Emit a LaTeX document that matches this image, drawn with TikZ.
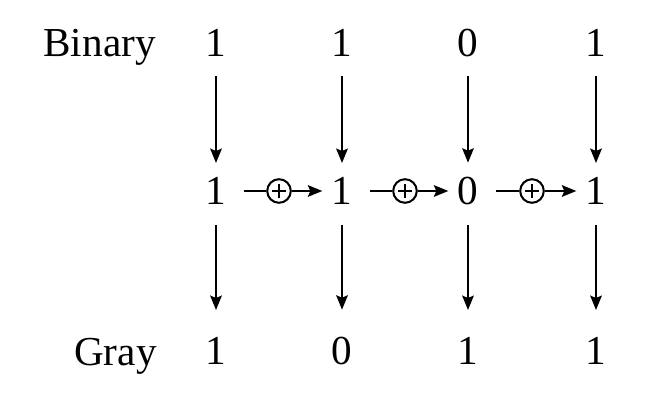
\documentclass[tikz,border=0pt]{standalone}
\usepackage{fontspec}
\setmainfont{Liberation Serif}
\usetikzlibrary{arrows.meta}

\begin{document}
\begin{tikzpicture}[x=0.5pt,y=-0.5pt,
    every node/.style={inner sep=0pt,font=\fontsize{20.6}{24}\selectfont},
    xorgate/.style={draw,circle,minimum size=11.8pt,line width=1pt,
      path picture={\draw[line width=0.9pt]
        ([xshift=-3.4pt]path picture bounding box.center) -- ([xshift=3.4pt]path picture bounding box.center)
        ([yshift=-3.4pt]path picture bounding box.center) -- ([yshift=3.4pt]path picture bounding box.center);}},
    flow/.style={line width=1pt,-{Stealth[length=7.2pt,width=5.8pt,inset=1.2pt]}}]
        \useasboundingbox (0,0) rectangle (662,405);

        \node[anchor=base east] (binary) at (156,57) {Binary};
        \node (b1) at (216,43) {1};
        \node (b2) at (342,43) {1};
        \node (b3) at (468,43) {0};
        \node (b4) at (596,43) {1};

        \node (m1) at (216,191) {1};
        \node (m2) at (342,191) {1};
        \node (m3) at (468,191) {0};
        \node (m4) at (596,191) {1};
        \node[xorgate] (x1) at (279,191) {};
        \node[xorgate] (x2) at (405,191) {};
        \node[xorgate] (x3) at (532,191) {};

        \node[anchor=base east] (gray) at (157,365) {Gray};
        \node (g1) at (216,351) {1};
        \node (g2) at (342,351) {0};
        \node (g3) at (468,351) {1};
        \node (g4) at (596,351) {1};

        \draw[flow, shorten <=9.5pt, shorten >=7pt] (b1) -- (m1);
        \draw[flow, shorten <=9.5pt, shorten >=7pt] (b2) -- (m2);
        \draw[flow, shorten <=9.5pt, shorten >=7pt] (b3) -- (m3);
        \draw[flow, shorten <=9.5pt, shorten >=7pt] (b4) -- (m4);

        \draw[line width=1pt, shorten <=8.5pt] (m1) -- (x1);
        \draw[flow, shorten >=4.5pt] (x1) -- (m2);
        \draw[line width=1pt, shorten <=8.5pt] (m2) -- (x2);
        \draw[flow, shorten >=4.5pt] (x2) -- (m3);
        \draw[line width=1pt, shorten <=8.5pt] (m3) -- (x3);
        \draw[flow, shorten >=4.5pt] (x3) -- (m4);

        \draw[flow, shorten <=10pt, shorten >=13.5pt] (m1) -- (g1);
        \draw[flow, shorten <=10pt, shorten >=13.5pt] (m2) -- (g2);
        \draw[flow, shorten <=10pt, shorten >=13.5pt] (m3) -- (g3);
        \draw[flow, shorten <=10pt, shorten >=13.5pt] (m4) -- (g4);
      \end{tikzpicture}
\end{document}
